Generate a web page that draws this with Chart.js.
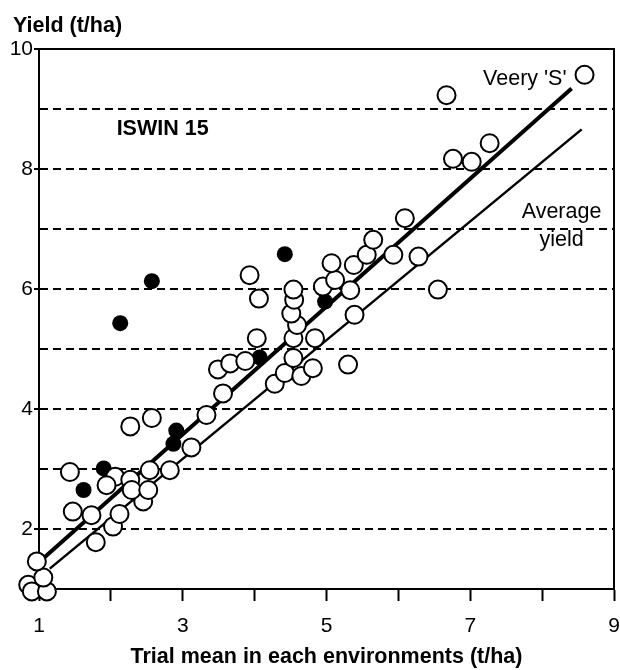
<!DOCTYPE html>
<html>
<head>
<meta charset="utf-8">
<title>ISWIN 15 yield</title>
<script src="https://cdn.jsdelivr.net/npm/chart.js@4"></script>
<style>
    html, body { margin: 0; padding: 0; background: #fff; }
    #wrap { width: 620px; height: 670px; }
</style>
</head>
<body>
<div id="wrap"><canvas id="yieldChart"></canvas></div>
<script>
// Entries (open circles): trial mean vs yield
const openX = [0.85, 0.90, 1.11, 1.06, 0.97, 1.79, 2.03, 1.47, 1.73, 2.12, 2.45,
    1.43, 2.06, 1.94, 2.27, 2.54, 2.82, 2.29, 2.52, 2.27, 2.57, 3.33, 3.12,
    3.56, 4.28, 4.42, 4.65, 4.81, 5.30, 3.49, 3.66, 3.87, 4.54, 4.03, 4.54,
    4.84, 4.59, 4.51, 5.39, 4.06, 4.55, 4.54, 4.95, 5.12, 5.33, 6.55, 3.93,
    5.07, 5.38, 5.56, 5.93, 6.28, 5.65, 6.09, 6.76, 7.02, 7.27, 6.67, 8.59];
const openY = [1.07, 0.96, 0.96, 1.19, 1.46, 1.78, 2.04, 2.29, 2.23, 2.25, 2.46,
    2.95, 2.87, 2.73, 2.82, 2.98, 2.98, 2.65, 2.65, 3.71, 3.85, 3.90, 3.36,
    4.26, 4.42, 4.60, 4.55, 4.68, 4.74, 4.66, 4.76, 4.80, 4.85, 5.18, 5.18,
    5.18, 5.40, 5.59, 5.57, 5.84, 5.82, 5.99, 6.04, 6.15, 5.98, 5.99, 6.23,
    6.43, 6.40, 6.57, 6.57, 6.54, 6.82, 7.18, 8.17, 8.12, 8.43, 9.23, 9.57];

// Entries (filled dots)
const filledX = [2.13, 2.57, 4.42, 4.98, 4.07, 2.91, 2.87, 1.90, 1.62];
const filledY = [5.43, 6.13, 6.58, 5.79, 4.86, 3.64, 3.42, 3.01, 2.65];

// Regression lines
const veeryX = [1.05, 8.41];
const veeryY = [1.50, 9.34];
const averageX = [1.15, 8.55];
const averageY = [1.34, 8.66];

// Tick labels
const xTickLabels = [1, 3, 5, 7, 9];
const yTickLabels = [2, 4, 6, 8, 10];

const FONT = "'Liberation Sans', Arial, sans-serif";

function toPoints(xs, ys) {
    return xs.map((x, i) => ({ x: x, y: ys[i] }));
}

// Frame round the plot area
const frameBox = {
    id: 'frameBox',
    beforeDatasetsDraw(chart) {
        const { ctx, chartArea: a } = chart;
        ctx.save();
        ctx.strokeStyle = '#000';
        ctx.lineWidth = 2;
        ctx.strokeRect(a.left, a.top, a.right - a.left, a.bottom - a.top);
        ctx.restore();
    }
};

// Y title on top and text notes inside the plot
const textNotes = {
    id: 'textNotes',
    afterDraw(chart) {
        const { ctx, scales: { x, y } } = chart;
        ctx.save();
        ctx.fillStyle = '#000';
        ctx.textBaseline = 'alphabetic';

        ctx.textAlign = 'left';
        ctx.font = 'bold 21.5px ' + FONT;
        ctx.fillText('Yield (t/ha)', 13, 32);
        ctx.fillText('ISWIN 15', x.getPixelForValue(2.08), y.getPixelForValue(8.57));

        ctx.font = '21.5px ' + FONT;
        ctx.textAlign = 'right';
        ctx.fillText("Veery 'S'", x.getPixelForValue(8.34), y.getPixelForValue(9.40));

        ctx.textAlign = 'center';
        ctx.fillText('Average', x.getPixelForValue(8.27), y.getPixelForValue(7.19));
        ctx.fillText('yield', x.getPixelForValue(8.27), y.getPixelForValue(6.71));
        ctx.restore();
    }
};

new Chart(document.getElementById('yieldChart'), {
    type: 'scatter',
    data: {
        datasets: [
            {
                label: 'Entries',
                data: toPoints(openX, openY),
                pointRadius: 9,
                pointHoverRadius: 9,
                borderWidth: 2,
                borderColor: '#000',
                backgroundColor: '#fff',
                clip: false
            },
            {
                label: 'Entries (filled)',
                data: toPoints(filledX, filledY),
                pointRadius: 8,
                pointHoverRadius: 8,
                borderWidth: 0,
                backgroundColor: '#000',
                clip: false
            },
            {
                label: "Veery 'S'",
                data: toPoints(veeryX, veeryY),
                showLine: true,
                pointRadius: 0,
                borderColor: '#000',
                borderWidth: 4
            },
            {
                label: 'Average yield',
                data: toPoints(averageX, averageY),
                showLine: true,
                pointRadius: 0,
                borderColor: '#000',
                borderWidth: 2.5
            }
        ]
    },
    options: {
        responsive: true,
        maintainAspectRatio: false,
        animation: false,
        layout: {
            autoPadding: false,
            padding: { top: 49, right: 6, left: 0, bottom: 0 }
        },
        plugins: {
            legend: { display: false },
            tooltip: { enabled: false }
        },
        scales: {
            x: {
                type: 'linear',
                min: 1,
                max: 9,
                afterFit: (scale) => {
                    scale.height = 81;
                    scale.paddingLeft = 0;
                    scale.paddingRight = 0;
                },
                ticks: {
                    stepSize: 1,
                    color: '#000',
                    padding: 13,
                    font: { family: FONT, size: 21 },
                    callback: (v) => xTickLabels.includes(v) ? String(v) : ''
                },
                grid: {
                    drawOnChartArea: false,
                    drawTicks: true,
                    tickLength: 12,
                    tickWidth: 2,
                    tickColor: '#000'
                },
                border: { display: true, color: '#000', width: 2 },
                title: {
                    display: true,
                    text: 'Trial mean in each environments (t/ha)',
                    color: '#000',
                    font: { family: FONT, size: 21.5, weight: 'bold' },
                    padding: { top: 0, bottom: 0 }
                }
            },
            y: {
                type: 'linear',
                min: 1,
                max: 10,
                afterFit: (scale) => { scale.width = 39; },
                ticks: {
                    stepSize: 1,
                    color: '#000',
                    padding: 1,
                    font: { family: FONT, size: 21 },
                    callback: (v) => yTickLabels.includes(v) ? String(v) : ''
                },
                grid: {
                    color: (ctx) => (ctx.tick && (ctx.tick.value === 1 || ctx.tick.value === 10)) ? 'rgba(0,0,0,0)' : '#000',
                    lineWidth: 2,
                    drawTicks: true,
                    tickLength: 5,
                    tickWidth: 2,
                    tickColor: (ctx) => (ctx.tick && yTickLabels.includes(ctx.tick.value)) ? '#000' : 'rgba(0,0,0,0)'
                },
                border: { display: true, color: '#000', width: 2, dash: [8, 5] }
            }
        }
    },
    plugins: [frameBox, textNotes]
});
</script>
</body>
</html>
